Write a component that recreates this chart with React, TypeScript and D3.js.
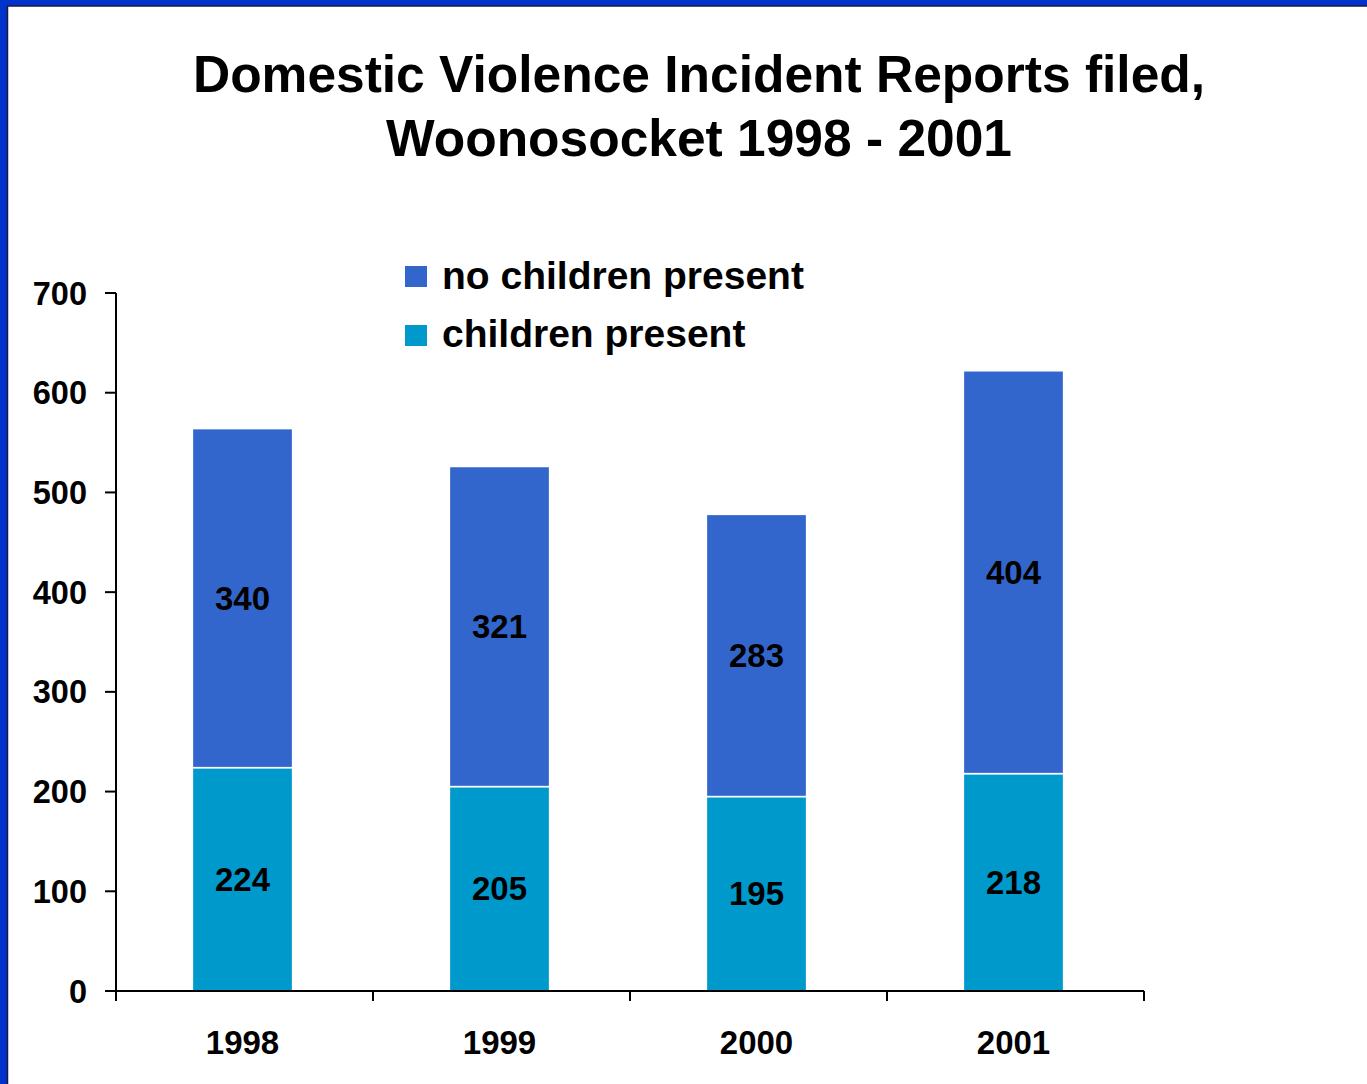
import React from "react";
import * as d3 from "d3";

const years = ["1998", "1999", "2000", "2001"];
const childrenPresent = [224, 205, 195, 218];
const noChildrenPresent = [340, 321, 283, 404];
const yTicks = [0, 100, 200, 300, 400, 500, 600, 700];
const seriesNames = ["no children present", "children present"];
const titleLines = ["Domestic Violence Incident Reports filed,", "Woonosocket 1998 - 2001"];

const W = 1367;
const H = 1084;
const FONT = "'Liberation Sans', Arial, sans-serif";
const C_NO = "#3366CC";
const C_CH = "#0099CC";

export default function App() {
  const x = d3.scaleBand<string>().domain(years).range([114, 1142]).paddingInner(0.61).paddingOuter(0.305);
  const y = d3.scaleLinear().domain([0, 700]).range([991, 293]);
  const x0 = 116, x1 = 1144;
  const bounds = [x0, ...years.map((_, i) => x0 + ((x1 - x0) / years.length) * (i + 1))];

  const rows = years.map((yr, i) => ({ yr, ch: childrenPresent[i], no: noChildrenPresent[i] }));
  const stack = d3.stack<any>().keys(["ch", "no"])(rows);

  return (
    <svg width={W} height={H} style={{ position: "absolute", left: 0, top: 0 }} fontFamily={FONT}>
      <rect x={0} y={0} width={W} height={H} fill="#ffffff" />
      {/* border */}
      <rect x={0} y={0} width={W} height={6} fill="#0033CC" />
      <rect x={0} y={0} width={7} height={H} fill="#0033CC" />
      <line x1={7} x2={W} y1={6} y2={6} stroke="#1a1a40" strokeWidth={1.5} />
      <line x1={7.5} x2={7.5} y1={6} y2={H} stroke="#1a1a40" strokeWidth={1.5} />

      {/* title */}
      {titleLines.map((t, i) => (
        <text key={i} x={699} y={92 + i * 64} textAnchor="middle" fontSize={51.5} fontWeight="bold" fill="#000">
          {t}
        </text>
      ))}

      {/* bars */}
      {stack.map((layer, li) =>
        layer.map((d, i) => (
          <rect
            key={`${li}-${i}`}
            x={x(years[i])}
            y={y(d[1])}
            width={x.bandwidth()}
            height={y(d[0]) - y(d[1])}
            fill={li === 0 ? C_CH : C_NO}
            stroke="#ffffff"
            strokeWidth={1.5}
          />
        ))
      )}

      {/* value labels */}
      {stack.map((layer, li) =>
        layer.map((d, i) => (
          <text
            key={`l${li}-${i}`}
            x={(x(years[i]) as number) + x.bandwidth() / 2}
            y={y((d[0] + d[1]) / 2) + 11.5}
            textAnchor="middle"
            fontSize={33}
            fontWeight="bold"
            fill="#000"
          >
            {d[1] - d[0]}
          </text>
        ))
      )}

      {/* y axis */}
      <line x1={116} x2={116} y1={y(700)} y2={y(0)} stroke="#000" strokeWidth={2} />
      {yTicks.map((t) => (
        <g key={t}>
          <line x1={105} x2={116} y1={y(t)} y2={y(t)} stroke="#000" strokeWidth={2} />
          <text x={87} y={y(t) + 11.5} textAnchor="end" fontSize={32.5} fontWeight="bold" fill="#000">
            {t}
          </text>
        </g>
      ))}

      {/* x axis */}
      <line x1={x0} x2={x1} y1={y(0)} y2={y(0)} stroke="#000" strokeWidth={2} />
      {bounds.map((b, i) => (
        <line key={i} x1={b} x2={b} y1={y(0)} y2={y(0) + 10} stroke="#000" strokeWidth={2} />
      ))}
      {years.map((yr) => (
        <text key={yr} x={(x(yr) as number) + x.bandwidth() / 2} y={1054} textAnchor="middle" fontSize={33} fontWeight="bold" fill="#000">
          {yr}
        </text>
      ))}

      {/* legend */}
      {seriesNames.map((n, i) => (
        <g key={n}>
          <rect x={405} y={266 + i * 59} width={22} height={21} fill={i === 0 ? C_NO : C_CH} />
          <text x={442} y={289 + i * 58} fontSize={39} fontWeight="bold" fill="#000">
            {n}
          </text>
        </g>
      ))}
    </svg>
  );
}
